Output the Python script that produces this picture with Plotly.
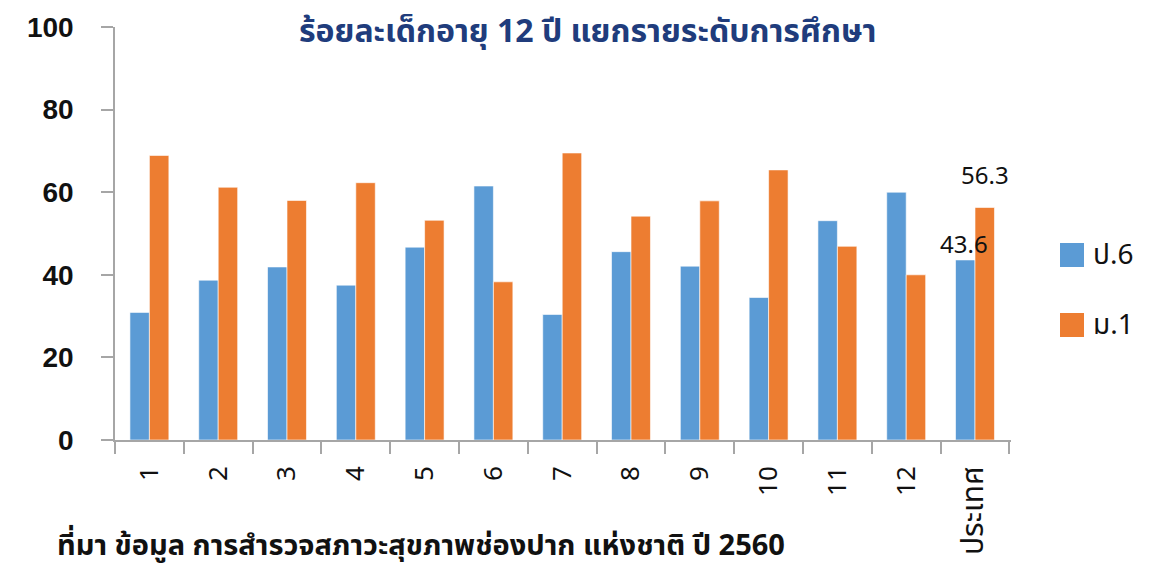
import plotly.graph_objects as go

categories = ["1", "2", "3", "4", "5", "6", "7", "8", "9", "10", "11", "12", "ประเทศ"]
series_names = ["ป.6", "ม.1"]
p6_values = [30.9, 38.7, 41.9, 37.5, 46.7, 61.5, 30.4, 45.6, 42.1, 34.5, 53.1, 60.0, 43.6]
m1_values = [68.9, 61.2, 58.0, 62.3, 53.2, 38.3, 69.5, 54.2, 57.9, 65.4, 46.9, 40.0, 56.3]
y_ticks = [0, 20, 40, 60, 80, 100]
title_text = "ร้อยละเด็กอายุ 12 ปี แยกรายระดับการศึกษา"
source_text = "ที่มา ข้อมูล การสำรวจสภาวะสุขภาพช่องปาก แห่งชาติ ปี 2560"

colors = ["#5B9BD5", "#ED7D31"]
thai_font = "Tahoma, 'Noto Sans Thai', 'Leelawadee UI', 'DejaVu Sans', sans-serif"

fig = go.Figure()
for name, vals, col in zip(series_names, [p6_values, m1_values], colors):
    fig.add_trace(go.Bar(
        x=categories, y=vals, name=name,
        marker=dict(color=col, line=dict(color="rgba(255,255,255,0.6)", width=1)),
        showlegend=False,
    ))

# data labels on last category
fig.add_annotation(x=categories[-1], y=p6_values[-1], text=f"{p6_values[-1]}",
                   xref="x", yref="y", showarrow=False, yanchor="bottom",
                   xshift=-11, yshift=-6, font=dict(family=thai_font, size=24, color="#111"))
fig.add_annotation(x=categories[-1], y=m1_values[-1], text=f"{m1_values[-1]}",
                   xref="x", yref="y", showarrow=False, yanchor="bottom",
                   xshift=10, yshift=10, font=dict(family=thai_font, size=24, color="#111"))

# manual legend
leg_y = [255, 325]
for name, col, yc in zip(series_names, colors, leg_y):
    fig.add_shape(type="rect", xref="paper", yref="paper",
                  x0=(1060 - 115) / 896, x1=(1084 - 115) / 896,
                  y0=(440 - yc - 12) / 413, y1=(440 - yc + 12) / 413,
                  fillcolor=col, line=dict(width=0))
    fig.add_annotation(xref="paper", yref="paper", x=(1091 - 115) / 896, y=(440 - yc) / 413,
                       text=name, showarrow=False, xanchor="left", yanchor="middle",
                       font=dict(family=thai_font, size=28, color="#111"))

fig.add_annotation(xref="paper", yref="paper", x=(588 - 115) / 896, y=(440 - 32) / 413,
                   text=f"<b>{title_text}</b>", showarrow=False, xanchor="center", yanchor="middle",
                   font=dict(family=thai_font, size=32, color="#203C7C"))
fig.add_annotation(xref="paper", yref="paper", x=(55 - 115) / 896, y=(440 - 546) / 413,
                   text=f"<b>{source_text}</b>", showarrow=False, xanchor="left", yanchor="middle",
                   font=dict(family=thai_font, size=29, color="#111"))

tick_text = [c if c.isdigit() else f'<span style="font-size:30px">{c}</span>' for c in categories]

fig.update_layout(
    width=1148, height=560,
    margin=dict(l=107, r=145, t=19, b=128, pad=0),
    paper_bgcolor="white", plot_bgcolor="white",
    barmode="group", bargap=0.434, bargroupgap=0,
    xaxis=dict(
        type="category", tickangle=-90, showgrid=False, showline=True, automargin=False,
        linecolor="#A6A6A6", linewidth=1.5, ticks="outside", tickson="boundaries",
        ticklen=12, tickcolor="#A6A6A6", tickwidth=1.5,
        tickmode="array", tickvals=categories, ticktext=tick_text,
        tickfont=dict(family=thai_font, size=26, color="#111"),
        ticklabelstandoff=14, fixedrange=True,
    ),
    yaxis=dict(
        range=[0, 100], tickvals=y_ticks, showgrid=False, zeroline=False, showline=True,
        automargin=False,
        linecolor="#A6A6A6", linewidth=1.5, ticks="outside", ticklen=12,
        tickcolor="#A6A6A6", tickwidth=1.5,
        tickfont=dict(family="'Liberation Sans', Arial, sans-serif", size=28, color="#111", weight="bold"),
        ticklabelstandoff=22,
    ),
)

fig.write_html("out.html")
